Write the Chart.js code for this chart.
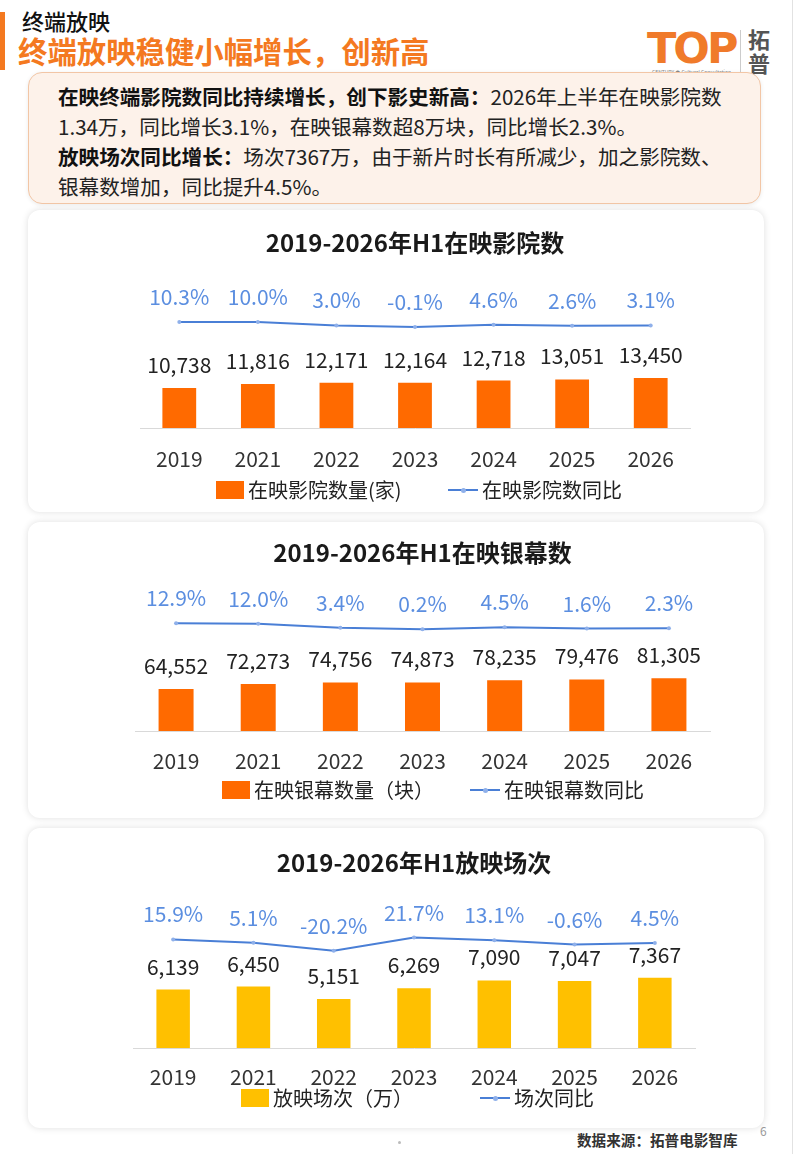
<!DOCTYPE html>
<html>
<head>
<meta charset="utf-8">
<script src="https://cdn.jsdelivr.net/npm/chart.js@4.4.1/dist/chart.umd.min.js"></script>
<style>
  html,body{margin:0;padding:0;background:#fff;}
  body{width:800px;height:1154px;position:relative;overflow:hidden;font-family:"Noto Sans CJK SC","Noto Sans",sans-serif;color:#222;}
  .abs{position:absolute;}
  .lbar{left:0;top:12px;width:5px;height:58px;background:#f47920;}
  .h1{left:22px;top:5px;font-size:22px;line-height:30px;color:#111;font-weight:500;}
  .h2{left:18px;top:33px;font-size:29.4px;line-height:34px;font-weight:bold;color:#f47920;}
  .logo{left:647px;top:27px;font-size:43px;line-height:43px;font-weight:900;color:#f07a2a;letter-spacing:-3px;font-family:"DejaVu Sans","Noto Sans",sans-serif;}
  .logosub{left:652px;top:68px;font-size:5px;color:#888;white-space:nowrap;}
  .sep{left:740px;top:30px;width:1px;height:42px;background:#ccc;}
  .logocn{left:748px;top:26px;font-size:22px;line-height:24px;font-weight:bold;color:#555;width:24px;}
  .box{left:28px;top:72px;width:731px;height:130px;border:1.5px solid #f2c6a6;border-radius:14px;background:#fdf2ea;box-shadow:0 1px 4px rgba(0,0,0,0.08);}
  .boxtext{position:absolute;left:29px;top:8px;font-size:20.6px;line-height:30px;color:#222;white-space:nowrap;}
  .boxtext b{color:#111;}
  .card{left:28px;width:736px;background:#fff;border-radius:12px;box-shadow:0 0 7px rgba(0,0,0,0.13);}
  .cv{position:absolute;left:0;top:0;width:736px;}
  .leg{position:absolute;font-size:20px;line-height:24px;color:#222;white-space:nowrap;display:flex;align-items:center;}
  .sq{display:inline-block;width:28px;height:18px;margin-right:4px;}
  .ln{display:inline-block;width:30px;height:2px;background:#4a7fd6;position:relative;margin-right:4px;}
  .ln:after{content:"";position:absolute;left:13px;top:-1.5px;width:5px;height:5px;border-radius:50%;background:#8fb0ea;}
  .src{left:577px;top:1130px;font-size:14.6px;line-height:20px;font-weight:bold;color:#333;white-space:nowrap;}
  .pg{left:760px;top:1122px;font-size:12px;color:#999;}
  .dot{left:398px;top:1141px;width:3px;height:3px;border-radius:50%;background:#bbb;}
  .rb{left:792px;top:0;width:1px;height:1154px;background:#e2e2e2;}
</style>
</head>
<body>
<div class="abs lbar"></div>
<div class="abs h1">终端放映</div>
<div class="abs h2">终端放映稳健小幅增长，创新高</div>
<div class="abs logo">TOP</div>
<div class="abs logosub">CENTURY ● Cultural Consultation</div>
<div class="abs sep"></div>
<div class="abs logocn">拓普</div>
<div class="abs rb"></div>

<div class="abs box">
  <div class="boxtext"><b>在映终端影院数同比持续增长，创下影史新高：</b>2026年上半年在映影院数<br>1.34万，同比增长3.1%，在映银幕数超8万块，同比增长2.3%。<br><b>放映场次同比增长：</b>场次7367万，由于新片时长有所减少，加之影院数、<br>银幕数增加，同比提升4.5%。</div>
</div>

<div class="abs card" style="top:210px;height:302px;">
  <div class="cv" style="height:280px;"><canvas id="c1"></canvas></div>
  <div class="leg" style="left:188px;top:268px;"><span class="sq" style="background:#ff6a00"></span>在映影院数量(家)</div>
  <div class="leg" style="left:420px;top:268px;"><span class="ln"></span>在映影院数同比</div>
</div>

<div class="abs card" style="top:522px;height:296px;">
  <div class="cv" style="height:269px;"><canvas id="c2"></canvas></div>
  <div class="leg" style="left:194px;top:256px;"><span class="sq" style="background:#ff6a00"></span>在映银幕数量（块）</div>
  <div class="leg" style="left:442px;top:256px;"><span class="ln"></span>在映银幕数同比</div>
</div>

<div class="abs card" style="top:828px;height:300px;">
  <div class="cv" style="height:278px;"><canvas id="c3"></canvas></div>
  <div class="leg" style="left:213px;top:258px;"><span class="sq" style="background:#ffc000"></span>放映场次（万）</div>
  <div class="leg" style="left:452px;top:258px;"><span class="ln"></span>场次同比</div>
</div>

<div class="abs src">数据来源：拓普电影智库</div>
<div class="abs pg">6</div>
<div class="abs dot"></div>

<script>
const years = ['2019','2021','2022','2023','2024','2025','2026'];
const cinemas = [10738, 11816, 12171, 12164, 12718, 13051, 13450];
const cinemaYoY = [10.3, 10.0, 3.0, -0.1, 4.6, 2.6, 3.1];
const screens = [64552, 72273, 74756, 74873, 78235, 79476, 81305];
const screenYoY = [12.9, 12.0, 3.4, 0.2, 4.5, 1.6, 2.3];
const shows = [6139, 6450, 5151, 6269, 7090, 7047, 7367];
const showYoY = [15.9, 5.1, -20.2, 21.7, 13.1, -0.6, 4.5];

Chart.defaults.font.family = '"Noto Sans CJK SC","Noto Sans",sans-serif';
Chart.defaults.color = '#333';

const labelPlugin = {
  id: 'valueLabels',
  afterDatasetsDraw(chart) {
    const ctx = chart.ctx;
    chart.data.datasets.forEach((ds, i) => {
      const meta = chart.getDatasetMeta(i);
      meta.data.forEach((el, j) => {
        const v = ds.data[j];
        ctx.save();
        ctx.font = '21px "Noto Sans CJK SC","Noto Sans",sans-serif';
        ctx.textAlign = 'center';
        ctx.textBaseline = 'middle';
        if (ds.type === 'bar') {
          ctx.fillStyle = '#222';
          ctx.fillText(v.toLocaleString('en-US'), el.x, el.y - 23);
        } else {
          ctx.fillStyle = '#5b8ee0';
          ctx.fillText(v.toFixed(1) + '%', el.x, el.y - 25);
        }
        ctx.restore();
      });
    });
  }
};

function makeChart(id, title, barData, barColor, lineData, cfg) {
  new Chart(document.getElementById(id), {
    data: {
      labels: years,
      datasets: [
        { type: 'line', data: lineData, yAxisID: 'y1', borderColor: '#4a7fd6', borderWidth: 2,
          pointRadius: 2, pointBackgroundColor: '#8fb0ea', pointBorderWidth: 0, tension: 0, order: 0 },
        { type: 'bar', data: barData, yAxisID: 'y', backgroundColor: barColor,
          barPercentage: cfg.barPct, categoryPercentage: 1, order: 1 }
      ]
    },
    options: {
      responsive: true,
      maintainAspectRatio: false,
      animation: false,
      layout: { padding: { left: cfg.padL, right: cfg.padR, top: 0, bottom: 0 } },
      plugins: {
        legend: { display: false },
        tooltip: { enabled: false },
        title: { display: true, text: title, color: '#1a1a1a',
          font: { size: 24, weight: 'bold' }, padding: { top: cfg.titleTop, bottom: 10 } }
      },
      scales: {
        x: {
          grid: { display: false, drawTicks: false },
          border: { display: true, color: '#d9d9d9', width: 1 },
          ticks: { font: { size: 21 }, color: '#333', padding: cfg.tickPad }
        },
        y: { display: false, min: 0, max: cfg.yMax },
        y1: { display: false, min: cfg.y1Min, max: cfg.y1Max }
      }
    },
    plugins: [labelPlugin]
  });
}

makeChart('c1', '2019-2026年H1在映影院数', cinemas, '#ff6a00', cinemaYoY,
  { padL: 112, padR: 74, titleTop: 18.6, tickPad: 18.4, yMax: 43110, y1Min: -210.6, y1Max: 124, barPct: 0.43 });
makeChart('c2', '2019-2026年H1在映银幕数', screens, '#ff6a00', screenYoY,
  { padL: 107, padR: 54, titleTop: 16.6, tickPad: 17.4, yMax: 236600, y1Min: -214.9, y1Max: 109.8, barPct: 0.426 });
makeChart('c3', '2019-2026年H1放映场次', shows, '#ffc000', showYoY,
  { padL: 105, padR: 69, titleTop: 20.6, tickPad: 16.4, yMax: 16870, y1Min: -330, y1Max: 181.6, barPct: 0.417 });
</script>
</body>
</html>
